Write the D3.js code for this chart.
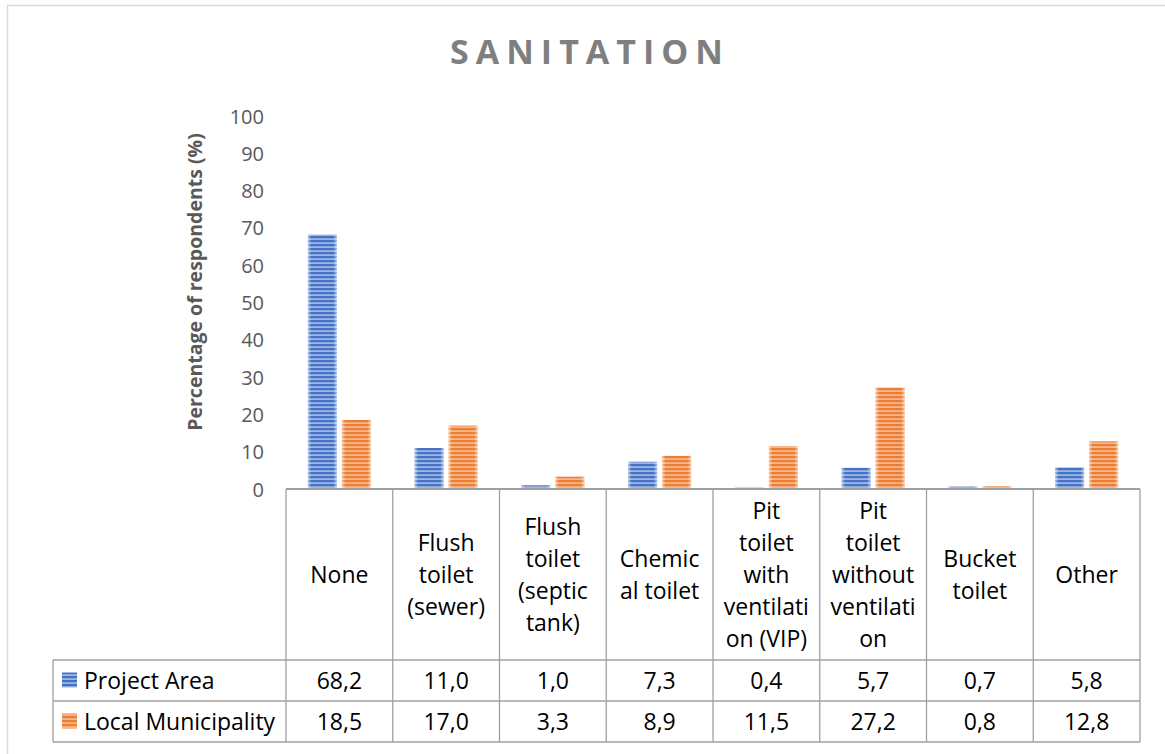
<!DOCTYPE html>
<html><head><meta charset="utf-8">
<script src="https://cdn.jsdelivr.net/npm/d3@7"></script>
<style>body{margin:0;background:#fff}svg{display:block}text{font-family:"Open Sans",Lato,sans-serif}</style>
</head><body><svg id="c" width="1165" height="754"></svg>
<script>
const categories = [
  ["None"],
  ["Flush","toilet","(sewer)"],
  ["Flush","toilet","(septic","tank)"],
  ["Chemic","al toilet"],
  ["Pit","toilet","with","ventilati","on (VIP)"],
  ["Pit","toilet","without","ventilati","on"],
  ["Bucket","toilet"],
  ["Other"]
];
const seriesNames = ["Project Area","Local Municipality"];
const projectArea = [68.2,11.0,1.0,7.3,0.4,5.7,0.7,5.8];
const localMunicipality = [18.5,17.0,3.3,8.9,11.5,27.2,0.8,12.8];
const yTicks = [0,10,20,30,40,50,60,70,80,90,100];
const title = "SANITATION";
const yTitle = "Percentage of respondents (%)";

const series = [projectArea, localMunicipality];
const colors = ["#4472C4","#ED7D31"];
const lightColors = ["#9db5e3","#f5b78e"];

const svg = d3.select("#c");
const plotL = 286, plotR = 1140, y0 = 489, y100 = 116;
const tableL = 53, headBottom = 660, row1Bottom = 701, row2Bottom = 742;
const fs = 23;

// outer border
svg.append("rect").attr("x",7.5).attr("y",5.5).attr("width",1170).attr("height",760)
  .attr("fill","none").attr("stroke","#d9d9d9").attr("stroke-width",1.5);

const defs = svg.append("defs");
series.forEach((s,i)=>{
  const p = defs.append("pattern").attr("id","pat"+i).attr("patternUnits","userSpaceOnUse")
    .attr("width",8).attr("height",4);
  p.append("rect").attr("width",8).attr("height",4).attr("fill",lightColors[i]);
  p.append("rect").attr("y",0).attr("width",8).attr("height",2.2).attr("fill",colors[i]);
});
const g = defs.append("linearGradient").attr("id","edge").attr("x1","0").attr("x2","1").attr("y1","0").attr("y2","0");
[[0,0.55],[0.12,0],[0.88,0],[1,0.55]].forEach(([o,a])=>g.append("stop").attr("offset",o).attr("stop-color","#fff").attr("stop-opacity",a));

const x = d3.scaleBand().domain(d3.range(categories.length)).range([plotL,plotR]).paddingInner(0).paddingOuter(0);
const y = d3.scaleLinear().domain([0,100]).range([y0,y100]);
const barW = 29, gap = 5;

// title
svg.append("text").attr("x",450).attr("y",64)
  .attr("font-size",34).attr("font-weight","bold").attr("fill","#7f7f7f")
  .attr("textLength",273).attr("lengthAdjust","spacing").text(title);

// y axis labels
const yAxis = d3.axisLeft(y).tickValues(yTicks).tickSize(0).tickPadding(0);
const ya = svg.append("g").attr("transform","translate(264,0)").call(yAxis);
ya.select(".domain").remove();
ya.selectAll("text").attr("font-size",20).attr("fill","#595959").attr("font-family","'Open Sans',Lato,sans-serif").attr("dy","0.35em");

svg.append("text").attr("transform","translate(202,282) rotate(-90)").attr("text-anchor","middle")
  .attr("font-size",19.5).attr("font-weight","bold").attr("fill","#595959").text(yTitle);

// bars
series.forEach((s,i)=>{
  const gg = svg.append("g");
  s.forEach((v,j)=>{
    const cx = x(j)+x.bandwidth()/2;
    const bx = i===0 ? cx - gap/2 - barW : cx + gap/2;
    const h = y0 - y(v);
    gg.append("rect").attr("x",bx).attr("y",y(v)).attr("width",barW).attr("height",h).attr("fill","url(#pat"+i+")");
    gg.append("rect").attr("x",bx).attr("y",y(v)).attr("width",barW).attr("height",h).attr("fill","url(#edge)");
  });
});

// table grid
const stroke = "#a0a0a0";
const line = (x1,y1,x2,y2,w)=>svg.append("line").attr("x1",x1).attr("y1",y1).attr("x2",x2).attr("y2",y2).attr("stroke",stroke).attr("stroke-width",w||1.3);
line(plotL,y0,plotR,y0,2);
line(tableL,headBottom,plotR,headBottom);
line(tableL,row1Bottom,plotR,row1Bottom);
line(tableL,row2Bottom,plotR,row2Bottom);
line(tableL,headBottom,tableL,row2Bottom);
for(let j=0;j<=categories.length;j++){
  const xx = j<categories.length ? x(j) : plotR;
  line(xx,y0,xx,row2Bottom);
}

// header text
const lh = 32;
categories.forEach((lines,j)=>{
  const cx = x(j)+x.bandwidth()/2;
  const cy = (y0+headBottom)/2;
  const t = svg.append("text").attr("text-anchor","middle").attr("font-size",fs).attr("fill","#000");
  lines.forEach((l,k)=>{
    t.append("tspan").attr("x",cx).attr("y",cy + (k-(lines.length-1)/2)*lh).attr("dy","0.35em").text(l);
  });
});

// rows
const fmt = v => v.toFixed(1).replace(".",",");
const rowTops = [headBottom,row1Bottom];
series.forEach((s,i)=>{
  const cy = (rowTops[i] + (i===0?row1Bottom:row2Bottom))/2;
  svg.append("rect").attr("x",62).attr("y",cy-8).attr("width",15).attr("height",15).attr("fill","url(#pat"+i+")");
  svg.append("text").attr("x",84).attr("y",cy).attr("dy","0.35em").attr("font-size",fs).attr("fill","#000").text(seriesNames[i]);
  s.forEach((v,j)=>{
    svg.append("text").attr("x",x(j)+x.bandwidth()/2).attr("y",cy).attr("dy","0.35em").attr("text-anchor","middle")
      .attr("font-size",fs).attr("fill","#000").text(fmt(v));
  });
});
</script></body></html>
